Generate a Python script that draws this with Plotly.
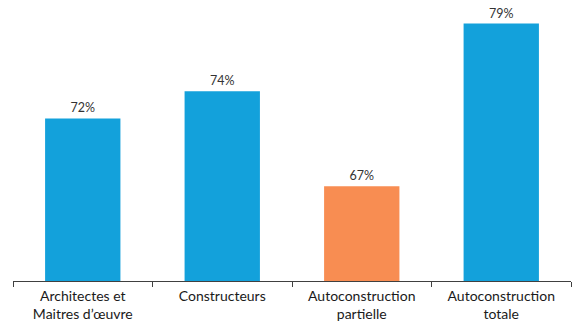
import plotly.graph_objects as go

categories = ["Architectes et<br>Maitres d\u2019\u0153uvre", "Constructeurs",
              "Autoconstruction<br>partielle", "Autoconstruction<br>totale"]
values = [72, 74, 67, 79]
labels = ["72%", "74%", "67%", "79%"]
colors = ["#13A1DB", "#13A1DB", "#F88D52", "#13A1DB"]

fig = go.Figure(go.Bar(
    x=categories, y=values, marker_color=colors, marker_line_width=0,
    width=0.54, text=labels, textposition="outside", cliponaxis=False,
    textfont=dict(family="Lato, Open Sans, sans-serif", size=12.5, color="#333333"),
))
fig.update_layout(
    width=573, height=321, margin=dict(l=13, r=2, t=10, b=40),
    paper_bgcolor="white", plot_bgcolor="white", showlegend=False,
    font=dict(family="Lato, Open Sans, sans-serif"),
)
fig.update_xaxes(showline=True, linecolor="#404040", linewidth=1,
                 ticks="outside", ticklen=5, tickcolor="#404040",
                 tickson="boundaries", ticklabelstandoff=2, automargin=False,
                 tickfont=dict(size=14, color="#1a1a1a"))
fig.update_yaxes(range=[60, 80], visible=False, showgrid=False)
fig.write_html("out.html")
